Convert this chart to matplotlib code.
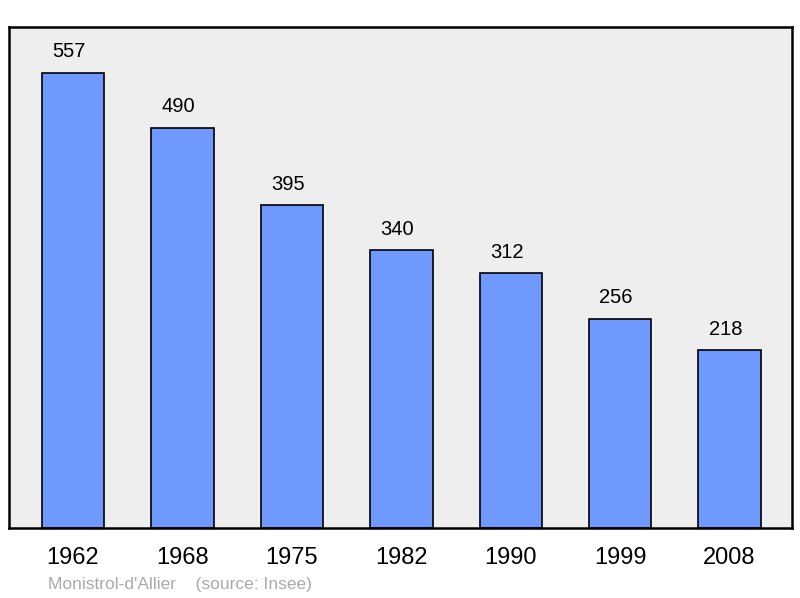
import matplotlib.pyplot as plt
import numpy as np

plt.rcParams['font.family'] = ['Liberation Sans', 'DejaVu Sans']

years = ["1962", "1968", "1975", "1982", "1990", "1999", "2008"]
population = [557, 490, 395, 340, 312, 256, 218]

fig = plt.figure(figsize=(8, 5.98), dpi=100)
ax = fig.add_axes([9/800, 1 - 528/598, 783/800, 501/598])
ax.set_facecolor("#eeeeee")

x = np.arange(len(years))
bars = ax.bar(x, population, width=0.57, color="#7099ff", edgecolor="black", linewidth=1.2, zorder=2)

# value labels above the bars
for b, v in zip(bars, population):
    ax.annotate(str(v), (b.get_x() + b.get_width() / 2, v), xytext=(-3, 11),
                textcoords="offset points", ha="center", va="baseline", fontsize=14.5)

ax.set_xlim(-0.585, 6.57)
ax.set_ylim(0, 613)
ax.set_yticks([])
ax.set_xticks(x)
ax.set_xticklabels(years, fontsize=17)
ax.tick_params(axis="x", length=0, pad=14)
for s in ax.spines.values():
    s.set_linewidth(1.8)

fig.text(48/800, 1 - 585/598, "Monistrol-d'Allier    (source: Insee)", color="#aaaaaa",
         fontsize=12.5, va="center")

fig.savefig("out.png", dpi=100)
